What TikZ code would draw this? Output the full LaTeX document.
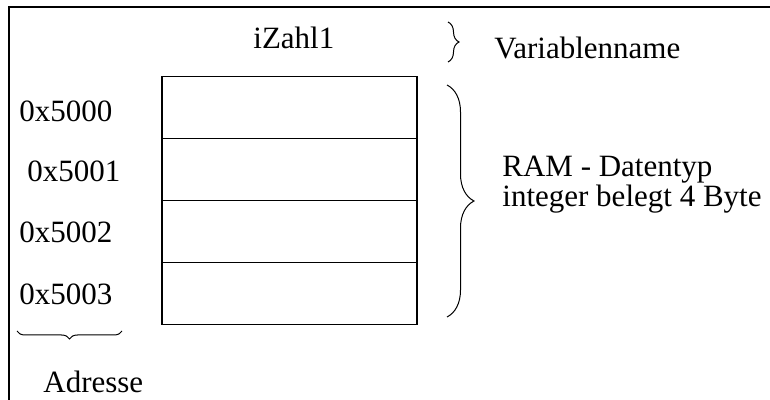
\documentclass[tikz,border=0pt]{standalone}
\usepackage{fontspec}
\setmainfont{Liberation Serif}
\usetikzlibrary{decorations.pathreplacing,positioning}
\tikzset{
  zelle/.style={rectangle, draw, line width=0.6pt, minimum width=127.5pt,
    minimum height=31pt, inner sep=0pt, outer sep=0pt},
  beschr/.style={inner sep=0pt, font=\fontsize{15.5}{18}\selectfont},
  klammer/.style={decorate, decoration={brace, amplitude=#1}, line width=0.5pt}
}
\begin{document}
\begin{tikzpicture}[x=0.5pt,y=-0.5pt]
  \useasboundingbox (0,0) rectangle (770,400);
  \draw[line width=1pt] (770,7.5) -| (8.5,400);
  % Speicherzellen
  \node[zelle] (z0) at (289.5,107.3) {};
  \node[zelle, below=0pt of z0] (z1) {};
  \node[zelle, below=0pt of z1] (z2) {};
  \node[zelle, below=0pt of z2] (z3) {};
  % Adressen
  \node[beschr, anchor=base west] (a0) at (19,121.5) {0x5000};
  \node[beschr, anchor=base west] (a1) at (27,182) {0x5001};
  \node[beschr, anchor=base west] (a2) at (19,243) {0x5002};
  \node[beschr, anchor=base west] (a3) at (19,305) {0x5003};
  \node[beschr, anchor=base west] (adr) at (43,392) {Adresse};
  % Variable
  \node[beschr, anchor=base west] (var) at (253,49) {iZahl1};
  \node[beschr, anchor=base west] (vname) at (494,59) {Variablenname};
  \node[beschr, anchor=base west, align=left,
        font=\fontsize{15.5}{13}\selectfont] (ram) at (502,207)
    {RAM - Datentyp\\integer belegt 4 Byte};
  % Klammern
  \coordinate (ko) at (448,22);
  \coordinate (ku) at (448,62);
  \coordinate (ro) at (447,85);
  \coordinate (ru) at (447,317);
  \coordinate (ar) at (122,331);
  \coordinate (al) at (17,331);
  \draw[klammer=5.5pt] (ko) -- (ku);
  \draw[klammer=13.5pt] (ro) -- (ru);
  \draw[klammer=4pt] (ar) -- (al);
\end{tikzpicture}
\end{document}
